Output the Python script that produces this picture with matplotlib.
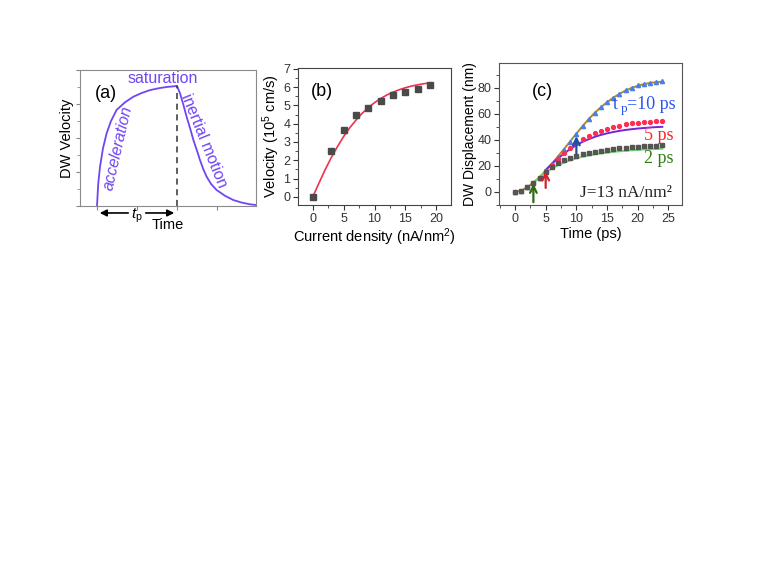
import matplotlib
matplotlib.use("Agg")
import matplotlib.pyplot as plt
from matplotlib.ticker import MultipleLocator, NullFormatter

plt.rcParams['font.family'] = ['Liberation Sans', 'DejaVu Sans']
plt.rcParams['mathtext.fontset'] = 'custom'
plt.rcParams['mathtext.rm'] = 'Liberation Sans'
plt.rcParams['mathtext.it'] = 'Liberation Sans:italic'

# ---------------- data ----------------
# (a) schematic DW velocity vs time
a_rise_t = [0, 0.03, 0.075, 0.15, 0.24, 0.35, 0.49, 0.7, 0.91, 1.12, 1.33, 1.55, 1.74, 2.0]
a_rise_v = [0, 1.3, 2.3, 3.4, 4.27, 5.0, 5.65, 6.1, 6.43, 6.65, 6.82, 6.93, 7.0, 7.06]
a_fall_t = [2.0, 2.075, 2.16, 2.24, 2.33, 2.41, 2.5, 2.575, 2.66, 2.74, 2.85, 2.99, 3.2, 3.41, 3.62, 3.825, 3.975]
a_fall_v = [7.06, 6.63, 5.95, 5.25, 4.55, 3.88, 3.25, 2.7, 2.15, 1.73, 1.3, 0.94, 0.6, 0.35, 0.2, 0.1, 0.06]

# (b) velocity vs current density
b_j = [0, 3, 5, 7, 9, 11, 13, 15, 17, 19]
b_v = [0, 2.5, 3.65, 4.45, 4.88, 5.27, 5.55, 5.76, 5.9, 6.1]
b_fit_j = list(range(0, 20))
b_fit_v = [0, 0.75, 1.48, 2.15, 2.75, 3.3, 3.78, 4.2, 4.57, 4.88, 5.15, 5.38, 5.57,
           5.73, 5.86, 5.97, 6.06, 6.13, 6.19, 6.24]

# (c) DW displacement vs time
c_t = list(range(0, 25))
c_tp10 = [0, 1, 3.5, 7, 11, 16, 21.5, 27, 32.5, 38.5, 44.5, 50.3, 55.8, 60.8, 65.2, 69,
          72.5, 75.5, 78, 80, 81.8, 83, 84, 84.5, 85]
c_tp5 = [0, 1, 3.5, 7, 11, 16, 21, 25.5, 30, 34, 37.5, 40.5, 43, 45.2, 47, 48.6,
         50, 51, 52, 52.7, 53.2, 53.6, 54, 54.3, 54.6]
c_tp2 = [0, 1, 3.5, 7, 11, 15.5, 19.5, 22, 24.2, 26.2, 27.8, 29.2, 30.2, 31, 31.7,
         32.3, 32.9, 33.4, 33.9, 34.3, 34.7, 35, 35.3, 35.6, 35.9]
c_fit10 = [0, 1, 3.6, 7.2, 11.4, 16.3, 21.7, 27.3, 33, 38.9, 44.8, 50.5, 55.9, 60.8,
           65.1, 68.9, 72.3, 75.3, 77.8, 79.9, 81.5, 82.8, 83.7, 84.3, 84.7]
c_fit5_t = list(range(5, 25))
c_fit5 = [17, 21.5, 25.8, 29.5, 33, 36, 38.5, 40.5, 42.3, 43.8, 45, 46, 46.9, 47.6,
          48.2, 48.7, 49.1, 49.5, 49.8, 50]
c_fit2_t = list(range(3, 25))
c_fit2 = [7, 11, 15, 18, 20.5, 22.5, 24.3, 25.8, 27, 28, 28.9, 29.6, 30.2, 30.7,
          31.2, 31.6, 32, 32.3, 32.6, 32.8, 33, 33.2]
c_arrow_t = [3, 5, 10]
c_arrow_y0 = [-10, 1, 27.5]
c_arrow_y1 = [8.5, 18, 45]

# ---------------- figure ----------------
fig = plt.figure(figsize=(7.63, 5.72), dpi=100)
W, H = 763, 572

def axes_px(l, t, r, b):
    return fig.add_axes([l / W, 1 - b / H, (r - l) / W, (b - t) / H])

tick_col = '#333333'
purple = '#7045F5'

# ---------- (a) ----------
axa = axes_px(80, 70, 256, 206)
axa.plot(a_rise_t, a_rise_v, color=purple, lw=1.3)
axa.plot(a_fall_t, a_fall_v, color=purple, lw=1.3)
axa.plot([2.0, 2.0], [0, 7.06], color='#333333', lw=1.1, ls=(0, (4, 3)))
axa.set_xlim(-0.425, 3.975)
axa.set_ylim(0, 8)
axa.xaxis.set_major_locator(MultipleLocator(1))
axa.yaxis.set_major_locator(MultipleLocator(2))
axa.yaxis.set_minor_locator(MultipleLocator(1))
axa.xaxis.set_major_formatter(NullFormatter())
axa.yaxis.set_major_formatter(NullFormatter())
axa.tick_params(which='major', direction='out', length=3, color='#888888')
axa.tick_params(which='minor', direction='out', length=2, color='#888888')
for s in axa.spines.values():
    s.set_color('#8a8a8a')
axa.set_ylabel('DW Velocity', fontsize=10.5, labelpad=-2)
axa.text(0.22, 6.6, '(a)', fontsize=13, va='center', ha='center')
axa.text(1.65, 7.5, 'saturation', fontsize=11.5, color=purple, ha='center', va='center')
axa.text(0.52, 3.4, 'acceleration', fontsize=11.5, color=purple, ha='center', va='center',
         rotation=77, style='italic')
axa.text(2.68, 3.85, 'inertial motion', fontsize=11.5, color=purple, ha='center', va='center',
         rotation=-68)
axa.annotate('', xy=(0, -0.41), xytext=(0.85, -0.41), xycoords='data',
             arrowprops=dict(arrowstyle='-|>', color='black', lw=1.2, mutation_scale=10),
             annotation_clip=False)
axa.annotate('', xy=(2.0, -0.41), xytext=(1.15, -0.41), xycoords='data',
             arrowprops=dict(arrowstyle='-|>', color='black', lw=1.2, mutation_scale=10),
             annotation_clip=False)
axa.text(1.0, -0.6, r'$t_\mathrm{p}$', fontsize=11, ha='center', va='center', clip_on=False)
axa.text(1.78, -1.12, 'Time', fontsize=10.5, ha='center', va='center', clip_on=False)

# ---------- (b) ----------
axb = axes_px(298, 68, 451, 205)
axb.plot(b_fit_j, b_fit_v, color='#F0304E', lw=1.2, zorder=2)
axb.plot(b_j, b_v, 's', color='#4a4a4a', ms=3.8, zorder=3)
axb.set_xlim(-2.4, 22.4)
axb.set_ylim(-0.45, 7.05)
axb.xaxis.set_major_locator(MultipleLocator(5))
axb.xaxis.set_minor_locator(MultipleLocator(2.5))
axb.yaxis.set_major_locator(MultipleLocator(1))
axb.yaxis.set_minor_locator(MultipleLocator(0.5))
axb.tick_params(which='major', direction='out', length=3.5, labelsize=9,
                labelcolor=tick_col, color='#333333', pad=2)
axb.tick_params(which='minor', direction='out', length=2, color='#333333')
for s in axb.spines.values():
    s.set_color('#444444')
axb.set_ylabel(r'Velocity (10$^5$ cm/s)', fontsize=10.5, labelpad=1)
axb.set_xlabel('Current density (nA/nm$^2$)', fontsize=10.5, labelpad=1.5)
axb.text(1.45, 5.74, '(b)', fontsize=13, ha='center', va='center')

# ---------- (c) ----------
axc = axes_px(499, 63, 682, 205)
axc.plot(c_t, c_fit10, color='#B08A1C', lw=1.4, zorder=2)
axc.plot(c_fit5_t, c_fit5, color='#7A22D8', lw=1.4, zorder=2)
axc.plot(c_fit2_t, c_fit2, color='#66E36A', lw=1.4, zorder=2)
axc.plot(c_t, c_tp10, '^', color='#4B7EE8', ms=3.0, zorder=3)
axc.plot(c_t, c_tp5, 'o', color='#FF2D52', ms=2.8, zorder=3)
axc.plot(c_t, c_tp2, 's', color='#555555', ms=2.4, zorder=3)
arrow_cols = ['#2E6A10', '#D3222C', '#1F4E9E']
for t, y0, y1, col in zip(c_arrow_t, c_arrow_y0, c_arrow_y1, arrow_cols):
    axc.annotate('', xy=(t, y1), xytext=(t, y0),
                 arrowprops=dict(arrowstyle='->', color=col, lw=1.6, mutation_scale=12),
                 zorder=4)
axc.set_xlim(-2.6, 27.2)
axc.set_ylim(-10, 99)
axc.xaxis.set_major_locator(MultipleLocator(5))
axc.xaxis.set_minor_locator(MultipleLocator(2.5))
axc.yaxis.set_major_locator(MultipleLocator(20))
axc.yaxis.set_minor_locator(MultipleLocator(10))
axc.tick_params(which='major', direction='out', length=3.5, labelsize=9,
                labelcolor=tick_col, color='#333333', pad=2)
axc.tick_params(which='minor', direction='out', length=2, color='#333333')
for s in axc.spines.values():
    s.set_color('#555555')
axc.set_ylabel('DW Displacement (nm)', fontsize=10, labelpad=0.5)
axc.set_xlabel('Time (ps)', fontsize=10.5, labelpad=1.5)
axc.text(4.55, 77, '(c)', fontsize=13, ha='center', va='center')
serif = ['Liberation Serif', 'DejaVu Serif']
axc.text(16.0, 67, 't', fontsize=13, color='#2A55F0', family=serif, ha='left', va='center')
axc.text(17.2, 63.5, 'p', fontsize=9.5, color='#2A55F0', family=serif, ha='left', va='center')
axc.text(18.3, 67, '=10 ps', fontsize=13, color='#2A55F0', family=serif, ha='left', va='center')
axc.text(25.8, 43, '5 ps', fontsize=13, color='#FF2020', family=serif, ha='right', va='center')
axc.text(25.8, 25.4, '2 ps', fontsize=13, color='#2E7D12', family=serif, ha='right', va='center')
axc.text(25.5, -0.5, 'J=13 nA/nm²', fontsize=12.5, color='#222222', family=serif,
         ha='right', va='center')

fig.savefig('out.png', dpi=100)
